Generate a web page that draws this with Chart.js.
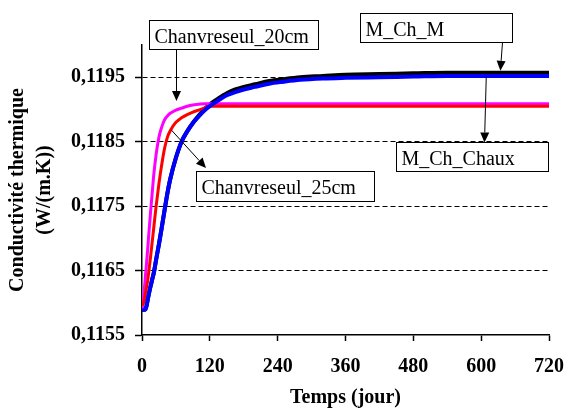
<!DOCTYPE html>
<html>
<head>
<meta charset="utf-8">
<script src="https://cdn.jsdelivr.net/npm/chart.js@4.4.1/dist/chart.umd.min.js"></script>
<style>
  html, body { margin: 0; padding: 0; background: #fff; }
  #wrap { width: 565px; height: 410px; }
</style>
</head>
<body>
<div id="wrap"><canvas id="chart" width="565" height="410"></canvas></div>
<script>
// time (days)
const days = [0, 2, 4, 6, 8, 10, 12, 15, 18, 21, 25, 30, 35, 40, 45, 50, 60, 70, 80, 90,
  100, 110, 120, 135, 150, 165, 180, 200, 225, 250, 280, 320, 360, 420, 480, 540, 600, 660, 720];

// conductivity W/(m.K)
const mChChaux = [0.11590, 0.11589, 0.11589, 0.11590, 0.11595, 0.11604, 0.11613, 0.11625, 0.11636, 0.11647,
  0.11667, 0.11691, 0.11717, 0.11744, 0.11770, 0.11792, 0.11825, 0.11850, 0.11866, 0.11879,
  0.11889, 0.11898, 0.11905, 0.11914, 0.11922, 0.11927, 0.11931, 0.11935, 0.11940, 0.11943,
  0.11946, 0.11948, 0.11949, 0.11950, 0.11951, 0.11952, 0.11952, 0.11952, 0.11952];
const mChM = [0.11590, 0.11589, 0.11589, 0.11590, 0.11595, 0.11604, 0.11613, 0.11625, 0.11636, 0.11647,
  0.11667, 0.11691, 0.11717, 0.11744, 0.11770, 0.11792, 0.11825, 0.11850, 0.11866, 0.11879,
  0.11890, 0.11900, 0.11908, 0.11917, 0.11925, 0.11931, 0.11935, 0.11939, 0.11944, 0.11947,
  0.11950, 0.11952, 0.11954, 0.11955, 0.11956, 0.11957, 0.11957, 0.11957, 0.11957];
const chanvre25 = [0.11596, 0.11598, 0.11604, 0.11614, 0.11624, 0.11634, 0.11648, 0.11670, 0.11694, 0.11718,
  0.11750, 0.11785, 0.11815, 0.11840, 0.11857, 0.11867, 0.11880, 0.11887, 0.11892, 0.11896,
  0.11899, 0.11902, 0.11905, 0.11905, 0.11905, 0.11905, 0.11905, 0.11905, 0.11905, 0.11905,
  0.11905, 0.11905, 0.11905, 0.11905, 0.11905, 0.11905, 0.11905, 0.11905, 0.11905];
const chanvre20 = [0.11590, 0.11602, 0.11620, 0.11641, 0.11661, 0.11683, 0.11706, 0.11739, 0.11770, 0.11800,
  0.11830, 0.11857, 0.11873, 0.11884, 0.11890, 0.11894, 0.11899, 0.11902, 0.11905, 0.11907,
  0.11908, 0.11909, 0.11909, 0.11909, 0.11909, 0.11909, 0.11909, 0.11909, 0.11909, 0.11909,
  0.11909, 0.11909, 0.11909, 0.11909, 0.11909, 0.11909, 0.11909, 0.11909, 0.11909];

const xTicks = [0, 120, 240, 360, 480, 600, 720];
const yTicks = [0.1155, 0.1165, 0.1175, 0.1185, 0.1195];

// labels with their arrows; a point is either pixel [x, y] or data {t, v}
const notes = [
  { text: 'Chanvreseul_20cm', box: { x: 149.5, y: 20.5, w: 169, h: 29 },
    from: [176.5, 49.5], to: { t: 61, v: 0.11913 } },
  { text: 'M_Ch_M', box: { x: 360.5, y: 13.5, w: 152, h: 29 },
    from: [502.5, 42.5], to: { t: 634, v: 0.11960 } },
  { text: 'M_Ch_Chaux', box: { x: 396.5, y: 142.5, w: 152, h: 29 },
    from: { t: 609, v: 0.11951 }, to: [484.5, 142.5] },
  { text: 'Chanvreseul_25cm', box: { x: 196.5, y: 171.5, w: 178, h: 30 },
    from: { t: 52, v: 0.11868 }, to: [206, 168] },
];

const serif = "'Liberation Serif', 'Times New Roman', serif";

function series(values) {
  return days.map((d, i) => ({ x: d, y: values[i] }));
}

const notesPlugin = {
  id: 'notes',
  afterDatasetsDraw(chart) {
    const ctx = chart.ctx;
    const xs = chart.scales.x, ys = chart.scales.y;
    const pt = p => Array.isArray(p) ? p : [xs.getPixelForValue(p.t), ys.getPixelForValue(p.v)];
    ctx.save();
    notes.forEach(n => {
      const [x1, y1] = pt(n.from);
      const [x2, y2] = pt(n.to);
      const ang = Math.atan2(y2 - y1, x2 - x1);
      const cos = Math.cos(ang), sin = Math.sin(ang);
      const len = 10, half = 4.5;
      ctx.strokeStyle = '#000';
      ctx.lineWidth = 1;
      ctx.beginPath();
      ctx.moveTo(x1, y1);
      ctx.lineTo(x2 - cos * len, y2 - sin * len);
      ctx.stroke();
      ctx.fillStyle = '#000';
      ctx.beginPath();
      ctx.moveTo(x2, y2);
      ctx.lineTo(x2 - cos * len - sin * half, y2 - sin * len + cos * half);
      ctx.lineTo(x2 - cos * len + sin * half, y2 - sin * len - cos * half);
      ctx.closePath();
      ctx.fill();

      const b = n.box;
      ctx.fillStyle = '#fff';
      ctx.fillRect(b.x, b.y, b.w, b.h);
      ctx.strokeRect(b.x, b.y, b.w, b.h);
      ctx.fillStyle = '#000';
      ctx.font = '20px ' + serif;
      ctx.textBaseline = 'alphabetic';
      ctx.textAlign = 'left';
      ctx.fillText(n.text, b.x + 5, b.y + 22.5);
    });
    ctx.restore();
  }
};

const tickFont = { family: serif, size: 20, weight: 'bold' };

new Chart(document.getElementById('chart'), {
  type: 'line',
  data: {
    datasets: [
      { label: 'M_Ch_Chaux', data: series(mChChaux), borderColor: '#0000ff', borderWidth: 4 },
      { label: 'Chanvreseul_25cm', data: series(chanvre25), borderColor: '#ff0000', borderWidth: 3 },
      { label: 'Chanvreseul_20cm', data: series(chanvre20), borderColor: '#ff00ff', borderWidth: 3 },
      { label: 'M_Ch_M', data: series(mChM), borderColor: '#000000', borderWidth: 4 },
    ],
  },
  options: {
    responsive: false,
    animation: false,
    devicePixelRatio: 1,
    layout: { padding: { top: 45, right: 16, left: 0, bottom: 0 } },
    elements: {
      point: { radius: 0 },
      line: { cubicInterpolationMode: 'monotone', fill: false },
    },
    plugins: {
      legend: { display: false },
      tooltip: { enabled: false },
    },
    scales: {
      x: {
        type: 'linear',
        min: 0,
        max: 720,
        afterBuildTicks: s => { s.ticks = xTicks.map(v => ({ value: v })); },
        afterFit: s => { s.height = 75; s.paddingRight = 0; },
        ticks: { color: '#000', font: tickFont, padding: 14, maxRotation: 0, autoSkip: false },
        grid: { drawOnChartArea: false, tickLength: 6, tickColor: '#000', tickWidth: 1.5 },
        border: { color: '#000', width: 1.5 },
        title: {
          display: true,
          text: 'Temps (jour)',
          color: '#000',
          font: { family: serif, size: 20, weight: 'bold', lineHeight: 1.2 },
          padding: { top: 0, bottom: 0 },
        },
      },
      y: {
        type: 'linear',
        min: 0.1155,
        max: 0.12,
        afterBuildTicks: s => { s.ticks = yTicks.map(v => ({ value: v })); },
        afterFit: s => { s.width = 142; },
        ticks: {
          color: '#000',
          font: tickFont,
          padding: 10,
          callback: v => v.toFixed(4).replace('.', ','),
        },
        grid: {
          color: c => (c.index === 0 ? 'rgba(0,0,0,0)' : '#000'),
          lineWidth: 1,
          tickLength: 7,
          tickColor: '#000',
          tickWidth: 1.5,
        },
        border: { color: '#000', width: 1.5, dash: [5, 3] },
        title: {
          display: true,
          text: ['Conductivité thermique', '(W/(m.K))'],
          color: '#000',
          font: { family: serif, size: 20, weight: 'bold', lineHeight: 1.35 },
          padding: { top: 4, bottom: 0 },
        },
      },
    },
  },
  plugins: [notesPlugin],
});
</script>
</body>
</html>
